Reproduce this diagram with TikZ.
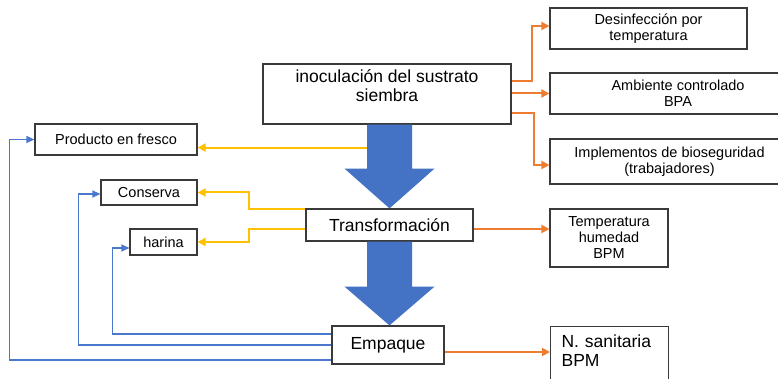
\documentclass[tikz,border=0pt]{standalone}
\usepackage{fontspec}
\setmainfont{Liberation Sans}
\usetikzlibrary{calc,arrows.meta}
\definecolor{bblue}{HTML}{4472C4}
\definecolor{tblue}{HTML}{4A78CC}
\definecolor{yel}{HTML}{FFC000}
\definecolor{ora}{HTML}{ED7D31}
\definecolor{edge}{HTML}{3A3A3A}
\tikzset{
  box/.style={draw=edge,line width=1.2pt,fill=white,inner sep=2pt,align=center,font=\fontsize{14.5}{16}\selectfont},
  bigbox/.style={box,font=\fontsize{17.5}{19.5}\selectfont},
  yarr/.style={draw=yel,line width=2pt,-{Triangle[length=8pt,width=8pt]}},
  oarr/.style={draw=ora,line width=2pt,-{Triangle[length=8pt,width=8pt]}},
  barr/.style={draw=tblue,line width=1.2pt,-{Triangle[length=8pt,width=7pt]}},
  blockarrow/.style={fill=bblue}
}
\begin{document}
\begin{tikzpicture}[x=1pt,y=-1pt]
\clip (0,0) rectangle (778,379);
\fill[white] (0,0) rectangle (778,379);
% nodes
\node[bigbox,minimum width=248pt,minimum height=60pt] (I) at (387,94) {inoculación del sustrato\\siembra\\[-3pt]};
\node[box,minimum width=197pt,minimum height=41pt] (D) at (648.5,28.5) {Desinfección por\\temperatura};
\node[box,minimum width=256pt,minimum height=41pt] (A) at (678,93.5) {Ambiente controlado\\BPA};
\node[box,minimum width=239pt,minimum height=45pt] (Im) at (669.5,161.5) {Implementos de bioseguridad\\(trabajadores)};
\node[box,minimum width=162pt,minimum height=31pt] (P) at (116,139.5) {Producto en fresco};
\node[box,minimum width=96pt,minimum height=25pt] (C) at (149,192.5) {Conserva};
\node[box,minimum width=67pt,minimum height=26pt] (H) at (163.5,242) {harina};
\node[bigbox,minimum width=167pt,minimum height=32pt] (T) at (389.5,225) {Transformación};
\node[bigbox,minimum width=112pt,minimum height=38pt] (E) at (388,345) {Empaque};
\node[box,minimum width=118pt,minimum height=58pt] (TH) at (609,238) {Temperatura\\humedad\\BPM};
\node[bigbox,anchor=north west,align=left,text width=96pt,inner xsep=11pt,inner ysep=8pt] (N) at (550,326) {N. sanitaria\\BPM\rule[-14pt]{0pt}{14pt}};
% block arrows
\coordinate (a1) at (T.north |- I.south);
\fill[blockarrow] ($(a1)+(-22.5,0)$) -- ($(a1)+(-22.5,44)$) -- ($(a1)+(-45,44)$) -- (T.north) -- ($(a1)+(45,44)$) -- ($(a1)+(22.5,44)$) -- ($(a1)+(22.5,0)$) -- cycle;
\coordinate (a2) at (T.south);
\fill[blockarrow] ($(a2)+(-22.5,0)$) -- ($(a2)+(-22.5,45)$) -- ($(a2)+(-45,45)$) -- (T.south |- E.north) -- ($(a2)+(45,45)$) -- ($(a2)+(22.5,45)$) -- ($(a2)+(22.5,0)$) -- cycle;
% yellow connectors
\coordinate (s1) at ($(a1)+(-22.5,23)$);
\draw[yarr] (s1) -- (s1 -| P.east);
\draw[yarr] ($(T.west)+(0,-16)$) -- ++(-56,0) |- (C.east);
\draw[yarr] ($(T.west)+(0,4)$) -- ++(-56,0) |- (H.east);
% orange connectors
\draw[oarr] ($(I.east)+(0,-13)$) -- ++(20,0) |- ($(D.west)+(0,-2.5)$);
\draw[oarr] (I.east |- A.west) -- (A.west);
\draw[oarr] ($(I.east)+(0,19)$) -- ++(22,0) |- ($(Im.west)+(0,3.5)$);
\draw[oarr] ($(T.east)+(0,4)$) -- ($(TH.west)+(0,-9)$);
\draw[oarr] ($(E.east)+(0,7)$) coordinate (e1) -- (e1 -| N.west);
% blue thin connectors
\draw[barr] ($(E.west)+(0,-11)$) -| ($(H.west)+(-17,6)$) -- ($(H.west)+(0,6)$);
\draw[barr] (E.west) -| ($(C.west)+(-22,1.5)$) -- ($(C.west)+(0,1.5)$);
\draw[barr] ($(E.west)+(0,15)$) -| ($(P.west)+(-25,0)$) -- (P.west);
\end{tikzpicture}
\end{document}
